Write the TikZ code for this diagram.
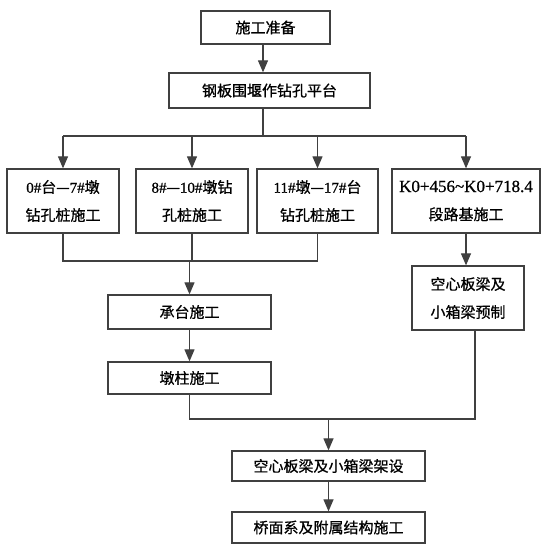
\documentclass[tikz,border=0pt]{standalone}
\usepackage{fontspec}
\setmainfont{Liberation Serif}
\newfontfamily\cjk[FakeBold=0.8]{Noto Sans CJK SC}
\newfontfamily\latf[FakeBold=0.8]{Liberation Serif}
\usetikzlibrary{arrows.meta}
\definecolor{ln}{HTML}{404040}
\begin{document}
\begin{tikzpicture}[x=1pt,y=-1pt,
  box/.style={draw=ln,line width=1.3pt,inner sep=0pt,align=center,font=\cjk\fontsize{15}{28}\selectfont},
  conn/.style={draw=ln,line width=1.2pt},
  arr/.style={conn,-{Triangle[length=12pt,width=10pt]}}]
\fill[white] (0,0) rectangle (553,549);
\useasboundingbox (0,0) rectangle (553,549);
\node[box,minimum width=129pt,minimum height=33pt] (b1) at (265.5,27.5) {施工准备};
\node[box,minimum width=201pt,minimum height=35pt] (b2) at (269.5,90.5) {钢板围堰作钻孔平台};
\node[box,minimum width=112pt,minimum height=64pt] (a) at (63,201) {{\latf 0\#}台—{\latf 7\#}墩\\钻孔桩施工};
\node[box,minimum width=112pt,minimum height=64pt] (b) at (192,201) {{\latf 8\#}—{\latf 10\#}墩钻\\孔桩施工};
\node[box,minimum width=121pt,minimum height=64pt] (c) at (317.5,201) {{\latf 11\#}墩—{\latf 17\#}台\\钻孔桩施工};
\node[box,minimum width=148pt,minimum height=64pt] (d) at (466,201) {{\latf\fontsize{17}{28}\selectfont K0+456\textasciitilde K0+718.4}\\段路基施工};
\node[box,minimum width=163pt,minimum height=34pt] (h) at (189.5,312) {承台施工};
\node[box,minimum width=163pt,minimum height=32pt] (p) at (189.5,378) {墩柱施工};
\node[box,minimum width=112pt,minimum height=64pt] (e) at (468,298) {空心板梁及\\小箱梁预制};
\node[box,minimum width=193pt,minimum height=30pt] (f) at (328.5,466) {空心板梁及小箱梁架设};
\node[box,minimum width=193pt,minimum height=31pt] (g) at (328.5,527.5) {桥面系及附属结构施工};
\coordinate (j1) at (263,136);
\coordinate (j2) at (190,261);
\coordinate (j3) at (475,419);
\draw[arr] (b1.south -| j1) -- (b2.north -| j1);
\draw[conn] (b2.south -| j1) -- (j1);
\draw[conn] (a.north |- j1) -- (d.north |- j1);
\draw[arr] (a.north |- j1) -- (a.north);
\draw[arr] (b.north |- j1) -- (b.north);
\draw[arr] (c.north |- j1) -- (c.north);
\draw[arr] (d.north |- j1) -- (d.north);
\draw[conn] (a.south) -- (a.south |- j2) -- (c.south |- j2) -- (c.south);
\draw[conn] (b.south) -- (b.south |- j2);
\draw[arr] (h.north |- j2) -- (h.north);
\draw[arr] (h.south) -- (p.north);
\draw[arr] (d.south) -- (d.south |- e.north);
\draw[conn] (p.south) -- (p.south |- j3) -- (j3) -- (j3 |- e.south);
\draw[arr] (f.north |- j3) -- (f.north);
\draw[arr] (f.south) -- (g.north);
\end{tikzpicture}
\end{document}
